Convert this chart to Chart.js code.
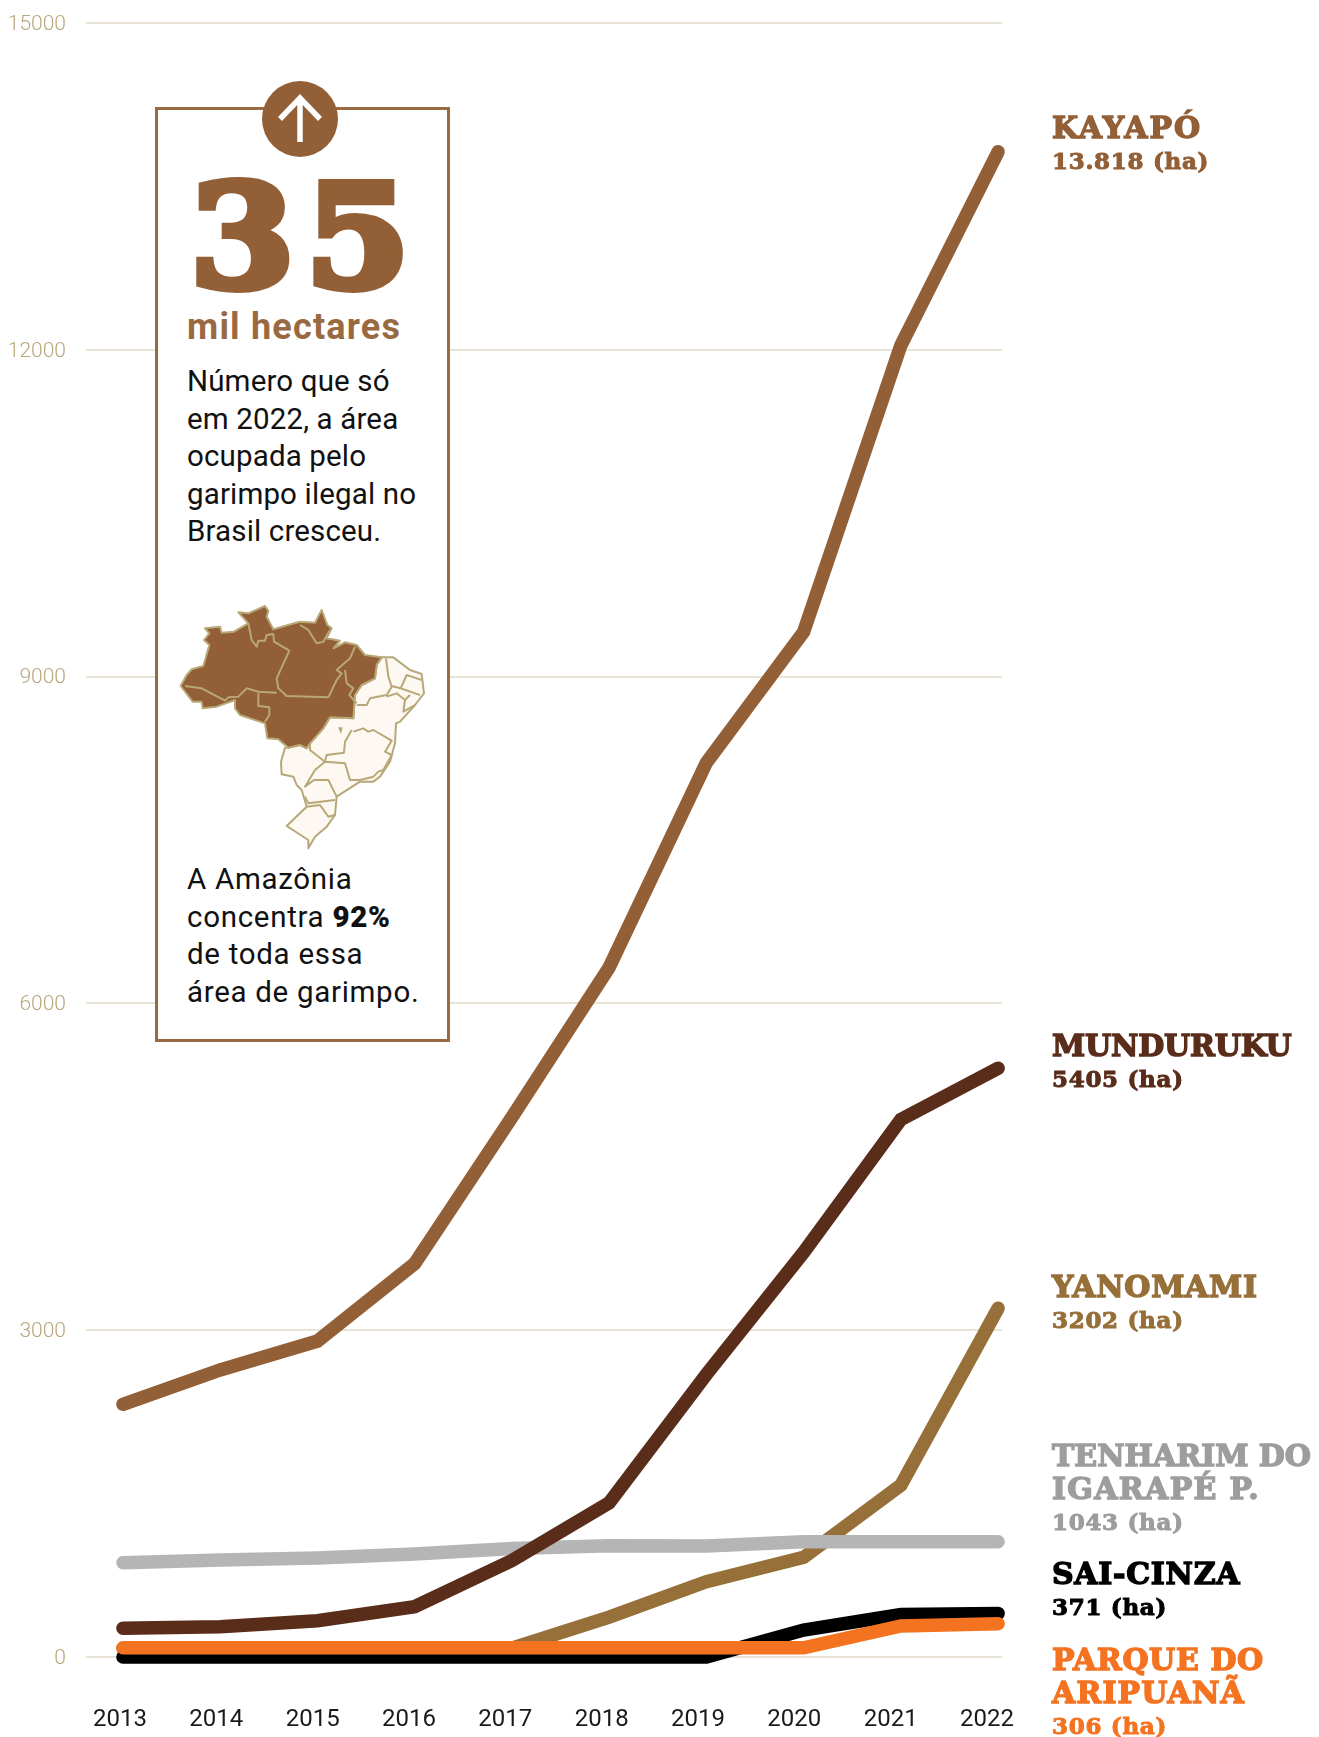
<!DOCTYPE html>
<html>
<head>
<meta charset="utf-8">
<script src="https://cdn.jsdelivr.net/npm/chart.js@4"></script>
<style>
  html, body { margin: 0; padding: 0; background: #fff; }
  #page { position: relative; width: 1319px; height: 1737px; overflow: hidden; font-family: Roboto, sans-serif; }
  #chart { position: absolute; left: 0; top: 0; }
  #panel { position: absolute; left: 155px; top: 107px; width: 289px; height: 929px; background: #fff; border: 3px solid #996a42; }
  #badge { position: absolute; left: 262px; top: 81px; }
  #big { position: absolute; left: 190px; top: 142px; font: bold 142px "DejaVu Serif", serif; line-height: 190px; color: #925f36; -webkit-text-stroke: 8px #925f36; letter-spacing: 10px; transform: scaleX(1.06); transform-origin: left center; }
  #sub { position: absolute; left: 187px; top: 305px; font: bold 36px Roboto, sans-serif; line-height: 44px; color: #996a42; letter-spacing: 1.2px; white-space: nowrap; }
  .copy { position: absolute; left: 187px; font: 400 29.5px Roboto, sans-serif; line-height: 37.5px; color: #111; white-space: nowrap; letter-spacing: 0.15px; }
  #map { position: absolute; left: 160px; top: 580px; }
  .endlabel { position: absolute; left: 1052px; font-family: "DejaVu Serif", serif; font-weight: bold; white-space: nowrap; }
  .endlabel .name { font-size: 30px; line-height: 33px; -webkit-text-stroke: 1.4px currentColor; letter-spacing: 0.4px; display: block; }
  .endlabel .val { font-size: 23px; line-height: 34px; display: block; -webkit-text-stroke: 1px currentColor; letter-spacing: 0.7px; }
</style>
</head>
<body>
<div id="page">
  <canvas id="chart" width="1319" height="1737"></canvas>

  <div id="panel"></div>
  <svg id="badge" width="76" height="76" viewBox="0 0 76 76">
    <circle cx="38" cy="38" r="38" fill="#925f36"/>
    <path d="M38 61V17M18 38L38 17L58 38" fill="none" stroke="#fff" stroke-width="5.5"/>
  </svg>
  <div id="big">35</div>
  <div id="sub">mil hectares</div>
  <div class="copy" style="top:363px">Número que só<br>em 2022, a área<br>ocupada pelo<br>garimpo ilegal no<br>Brasil cresceu.</div>

  <svg id="map" width="320" height="280" viewBox="0 0 960 840">
    <g stroke="#b8a878" stroke-width="6" stroke-linejoin="round" fill="none">
      <path fill="#fdf9f2" d="M665 232L700 232L750 270L785 282L792 340L765 375L720 425L708 430L705 490L690 545L660 590L640 605L600 605L530 650L525 705L500 740L465 770L445 805L445 780L380 738L440 680L425 630L410 615L400 590L365 583L363 545L375 503L385 503L420 495L440 505L450 490L490 445L510 412L580 415L585 345L605 315L645 295L650 255Z"/>
      <path d="M678 235L685 290L695 320L680 345L630 355L620 375L590 375M695 318L722 325L740 285L785 300M722 325L780 345M680 350L710 340L735 360L750 345M735 360L730 395L765 375M580 455L610 445L625 455L640 450L695 482L675 515L695 525L670 570L655 575L640 590L600 600L570 600L555 550L495 545M575 450L555 485L552 518L500 525L495 545L450 510L450 490M495 545L465 570L435 620L462 600L505 600L525 640L530 650M435 650L445 670L525 660M440 680L480 675L505 710L525 705"/>
      <path fill="#925f36" d="M62 318L80 285L95 268L130 258L148 195L132 180L148 160L135 145L180 140L185 158L222 155L265 130L235 97L265 100L315 78L325 92L320 110L340 148L395 132L420 125L465 128L485 90L502 135L515 145L500 175L540 182L520 205L555 187L590 195L615 225L665 232L650 255L645 295L605 315L585 345L580 415L510 412L490 445L450 490L440 505L420 495L385 503L355 478L322 475L315 430L240 405L225 385L225 360L170 380L128 385L125 365L98 365Z"/>
      <path d="M75 318L125 325L195 362M195 362L205 352L235 350L260 325L295 335L350 338M265 130L275 180L290 200L295 182L315 182L320 165L340 162L342 185L388 212L350 295L355 325L380 348L505 352M420 135L445 150L470 190L490 185L510 150M505 352L530 300L545 280L530 270L570 235L585 200M555 270L560 310L580 325L568 345L590 370M295 340L295 378L328 382L328 405L315 425"/>
    </g>
    <path d="M534 442L548 442L543 462Z" fill="#b8a878"/>
  </svg>

  <div class="copy" style="top:861px;letter-spacing:0.7px">A Amazônia<br>concentra <b style="font-weight:900">92%</b><br>de toda essa<br>área de garimpo.</div>

  <div class="endlabel" style="top:111px;color:#925f36"><span class="name" style="letter-spacing:2px">KAYAPÓ</span><span class="val">13.818 (ha)</span></div>
  <div class="endlabel" style="top:1029px;color:#5a2d1a"><span class="name" style="letter-spacing:-0.2px">MUNDURUKU</span><span class="val">5405 (ha)</span></div>
  <div class="endlabel" style="top:1270px;color:#976f38"><span class="name" style="letter-spacing:0.7px">YANOMAMI</span><span class="val">3202 (ha)</span></div>
  <div class="endlabel" style="top:1439px;color:#9d9d9c"><span class="name" style="letter-spacing:0">TENHARIM DO</span><span class="name" style="letter-spacing:1.3px">IGARAPÉ P.</span><span class="val">1043 (ha)</span></div>
  <div class="endlabel" style="top:1557px;color:#000"><span class="name" style="letter-spacing:0.7px">SAI-CINZA</span><span class="val">371 (ha)</span></div>
  <div class="endlabel" style="top:1643px;color:#f47321"><span class="name" style="letter-spacing:0.6px">PARQUE DO</span><span class="name" style="letter-spacing:1.1px">ARIPUANÃ</span><span class="val">306 (ha)</span></div>
</div>

<script>
const years = [2013, 2014, 2015, 2016, 2017, 2018, 2019, 2020, 2021, 2022];
const yTicks = [0, 3000, 6000, 9000, 12000, 15000];

// the drawn lines don't always land on the printed labels
const yanomami = [80, 80, 80, 80, 80, 366, 691, 915, 1577, 3202];
const saiCinza = [0, 0, 0, 0, 0, 0, 0, 248, 390, 400];
const munduruku = [265, 278, 333, 462, 885, 1415, 2595, 3715, 4935, 5405];
const kayapo = [2320, 2635, 2900, 3612, 4955, 6330, 8210, 9410, 12040, 13818];
const tenharim = [866, 890, 909, 946, 997, 1022, 1019, 1058, 1058, 1058];
const parque = [85, 85, 85, 85, 85, 85, 85, 85, 285, 306];

function lineSet(label, values, color) {
  return {
    label,
    data: values.map((v, i) => ({ x: years[i], y: v })),
    borderColor: color,
    backgroundColor: color,
    borderWidth: 13.5,
    borderCapStyle: 'round',
    borderJoinStyle: 'miter',
    pointRadius: 0,
    tension: 0,
    clip: false
  };
}

const ctx = document.getElementById('chart').getContext('2d');
new Chart(ctx, {
  type: 'line',
  data: {
    // first dataset ends up on top
    datasets: [
      lineSet('Parque do Aripuanã', parque, '#f47321'),
      lineSet('Munduruku', munduruku, '#5a2d1a'),
      lineSet('Sai-Cinza', saiCinza, '#000000'),
      lineSet('Tenharim do Igarapé P.', tenharim, '#b5b5b5'),
      lineSet('Yanomami', yanomami, '#976f38'),
      lineSet('Kayapó', kayapo, '#925f36')
    ]
  },
  options: {
    responsive: false,
    animation: false,
    layout: { padding: { left: 0, right: 317, top: 23, bottom: 0 } },
    plugins: { legend: { display: false }, tooltip: { enabled: false } },
    scales: {
      x: {
        type: 'linear',
        display: false,
        min: 2012.62,
        max: 2022.04
      },
      // labels sit a little left of the points in the original, so they get their own scale
      xLabels: {
        type: 'linear',
        position: 'bottom',
        min: 2012.647,
        max: 2022.156,
        afterBuildTicks: axis => { axis.ticks = years.map(value => ({ value })); },
        afterFit: axis => {
          axis.height = 80;
          axis.paddingLeft = 0;
          axis.paddingRight = 0;
        },
        grid: { display: false },
        border: { display: false },
        ticks: {
          padding: 41,
          autoSkip: false,
          maxRotation: 0,
          color: '#1a1a1a',
          font: { family: 'Roboto', size: 24 },
          callback: v => String(v)
        }
      },
      y: {
        min: 0,
        max: 15000,
        afterBuildTicks: axis => { axis.ticks = yTicks.map(value => ({ value })); },
        afterFit: axis => {
          axis.width = 86;
          axis.paddingTop = 0;
          axis.paddingBottom = 0;
        },
        grid: { color: '#e9e3d6', lineWidth: 2, drawTicks: false },
        border: { display: false },
        ticks: {
          padding: 20,
          labelOffset: 1.5,
          color: '#b9a77c',
          font: { family: 'Roboto', size: 21, weight: 300 },
          callback: v => String(v)
        }
      }
    }
  }
});
</script>
</body>
</html>
